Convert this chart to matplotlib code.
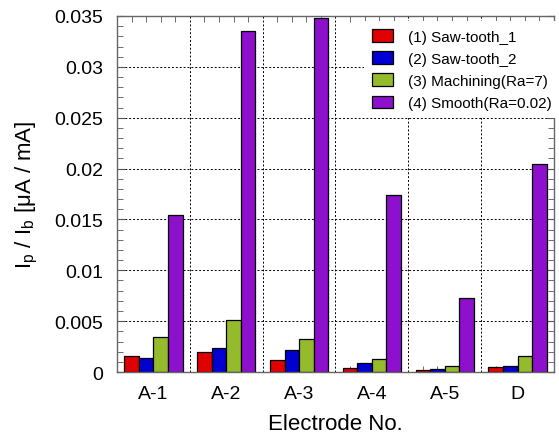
import numpy as np
import matplotlib
matplotlib.use("Agg")
import matplotlib.pyplot as plt
from matplotlib.ticker import MultipleLocator, FixedLocator

plt.rcParams["font.family"] = ["Liberation Sans", "DejaVu Sans"]
plt.rcParams["mathtext.default"] = "regular"

electrodes = ["A-1", "A-2", "A-3", "A-4", "A-5", "D"]
labels = ["(1) Saw-tooth_1", "(2) Saw-tooth_2", "(3) Machining(Ra=7)", "(4) Smooth(Ra=0.02)"]
saw1 = [0.00154, 0.00194, 0.00118, 0.00043, 0.00023, 0.00049]
saw2 = [0.00138, 0.00236, 0.00216, 0.00088, 0.00026, 0.00056]
machining = [0.00341, 0.00514, 0.00324, 0.00131, 0.00062, 0.00157]
smooth = [0.01544, 0.03356, 0.0348, 0.0174, 0.00728, 0.02045]
colors = ["#e00000", "#0000d2", "#94bb2c", "#8c10cc"]

series = [saw1, saw2, machining, smooth]
width = 0.2
centers = np.arange(len(electrodes)) + 0.5

fig = plt.figure(figsize=(5.59, 4.39), dpi=100)
ax = fig.add_axes([0.2093, 0.1503, 0.7817, 0.811])

# grid lines (behind bars)
for v in np.arange(0.005, 0.035, 0.005):
    ax.axhline(v, color="black", ls=(0, (2, 2)), lw=0.7, zorder=0)
for b in range(1, len(electrodes)):
    ax.axvline(b, color="black", ls=(0, (2, 2)), lw=0.7, zorder=0)

bar_pos = []
for i, (vals, col, lab) in enumerate(zip(series, colors, labels)):
    pos = centers + (i - 1.5) * width
    bar_pos.extend(pos)
    ax.bar(pos, vals, width=width, color=col, edgecolor="black", lw=0.9,
           label=lab, zorder=2)

ax.set_xlim(0, len(electrodes))
ax.set_ylim(0, 0.035)

ax.set_xticks(centers)
ax.set_xticklabels(electrodes)
ax.xaxis.set_minor_locator(FixedLocator(sorted(bar_pos)))
ax.yaxis.set_major_locator(MultipleLocator(0.005))
ax.yaxis.set_minor_locator(MultipleLocator(0.001))
ax.set_yticklabels(["%g" % t for t in ax.get_yticks()])

ax.tick_params(axis="x", which="major", length=0, labelsize=14, pad=9)
ax.tick_params(axis="x", which="minor", direction="in", length=4,
               top=True, bottom=True, color="#555555")
ax.tick_params(axis="y", which="major", direction="in", length=6,
               left=True, right=True, labelsize=14, pad=10, color="#555555")
ax.tick_params(axis="y", which="minor", direction="in", length=4,
               left=True, right=True, color="#555555")
for s in ax.spines.values():
    s.set_color("#666666")
    s.set_linewidth(1.0)

ax.set_xlabel("Electrode No.", fontsize=16, labelpad=8)
ax.set_ylabel("I$_p$ / I$_b$ [μA / mA]", fontsize=16, labelpad=10)

leg = ax.legend(loc="upper left", bbox_to_anchor=(0.565, 0.985), fontsize=11,
                frameon=True, facecolor="white", edgecolor="none", framealpha=1,
                fancybox=False, handlelength=1.4, handleheight=0.9,
                handletextpad=1.0, labelspacing=0.5, borderpad=0.5,
                borderaxespad=0)
leg.set_zorder(3)

fig.savefig("out.png", dpi=100)
